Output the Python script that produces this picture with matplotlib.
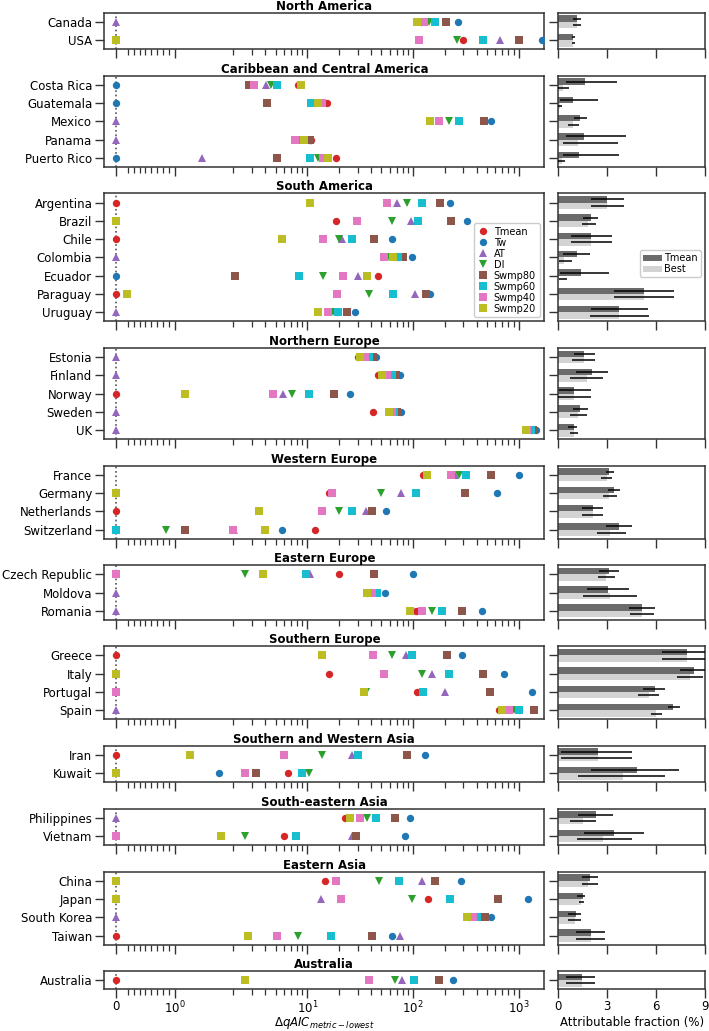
import numpy as np
import matplotlib
matplotlib.use("Agg")
import matplotlib.pyplot as plt
from matplotlib.ticker import FixedLocator, NullFormatter

regions = ["North America", "Caribbean and Central America", "South America",
           "Northern Europe", "Western Europe", "Eastern Europe", "Southern Europe",
           "Southern and Western Asia", "South-eastern Asia", "Eastern Asia", "Australia"]
region_sizes = [2, 5, 7, 5, 4, 3, 4, 2, 2, 4, 1]

countries = ["Canada", "USA",
             "Costa Rica", "Guatemala", "Mexico", "Panama", "Puerto Rico",
             "Argentina", "Brazil", "Chile", "Colombia", "Ecuador", "Paraguay", "Uruguay",
             "Estonia", "Finland", "Norway", "Sweden", "UK",
             "France", "Germany", "Netherlands", "Switzerland",
             "Czech Republic", "Moldova", "Romania",
             "Greece", "Italy", "Portugal", "Spain",
             "Iran", "Kuwait",
             "Philippines", "Vietnam",
             "China", "Japan", "South Korea", "Taiwan",
             "Australia"]

metrics = ["Tmean", "Tw", "AT", "DI", "Swmp80", "Swmp60", "Swmp40", "Swmp20"]

tmean = [119, 295,
         8.17, 15.2, 270, 10.9, 18.5,
         0, 18.7, 0, 72, 47, 0, 19,
         30.2, 46.9, 0, 42, 1300,
         125, 16.0, 0, 11.9,
         19.9, 37, 106.7,
         0, 16, 110, 656,
         0, 6.51,
         22.8, 5.99,
         14.6, 139, 340, 0,
         0]
tw = [267, 1648,
      0, 0, 550, 10.5, 0,
      224, 322, 63.2, 97, 0, 146, 28.5,
      44.4, 74.6, 25.1, 77.5, 1448,
      1000, 622, 56, 5.75,
      99.3, 54.7, 448,
      294, 721, 1349, 1007,
      128.6, 1.76,
      93.6, 84.5,
      286, 1222, 553, 63.4,
      239]
at = [0, 670,
      4.08, 10.9, 0, 0, 1.47,
      70, 95, 21.1, 0, 30.4, 104, 0,
      0, 0, 5.84, 0, 0,
      250, 77.4, 35.7, 2.03,
      10.5, 0, 0,
      85.9, 151, 200, 0,
      26.6, 8.89,
      0, 26.6,
      121, 13.5, 0, 75.8,
      78.7]
di = [143, 259,
      4.49, 12.5, 218, 8.1, 12.5,
      88.4, 63.7, 20.1, 59.7, 14.2, 38.6, 17.6,
      36, 60, 7.15, 62, 1300,
      270, 49.8, 19.9, 0.846,
      2.58, 40, 152.6,
      63.8, 120.8, 36, 895,
      13.7, 10.4,
      37.1, 2.55,
      47.2, 97.2, 380, 8.22,
      68]
swmp80 = [206, 1007,
          2.80, 4.19, 470, 10.5, 5.13,
          180, 228, 43, 81, 2.05, 133, 23.6,
          41.7, 69, 17.9, 70.6, 1371,
          550, 309, 40.6, 1.17,
          42.7, 43, 292.5,
          211, 460, 532, 1396,
          87.1, 3.27,
          68, 28.7,
          160, 631, 481, 41,
          178]
swmp60 = [160, 457,
          5.13, 10.9, 271, 8.48, 10.6,
          122, 111, 26.3, 72, 8.34, 65, 19.4,
          38.6, 62.8, 10.3, 66.4, 1298,
          320, 106, 26.5, 0,
          9.68, 45.4, 189.4,
          97.9, 218, 123.5, 1007,
          29.9, 8.89,
          45.1, 7.85,
          74, 225, 406, 16.6,
          103]
swmp40 = [128, 114,
          3.11, 13.8, 178, 7.6, 14.2,
          56.4, 29.3, 14.2, 53.5, 21.9, 19, 15.8,
          35.2, 56.9, 4.73, 63.2, 1200,
          230, 17.0, 13.7, 1.99,
          0, 40.7, 120.8,
          42, 53.5, 0, 809,
          6.03, 2.60,
          31.7, 0,
          18.5, 20.9, 366, 5.13,
          38.6]
swmp20 = [108, 0,
          8.81, 12.5, 145.5, 9.39, 15.8,
          10.6, 0, 5.73, 65.2, 36.5, 0.187, 12.7,
          31.3, 50.6, 1.17, 59.2, 1175,
          135, 0, 3.52, 4.0,
          3.79, 36.5, 94.1,
          13.8, 0, 34.6, 693,
          1.26, 0,
          25.6, 1.78,
          0, 0, 327, 2.75,
          2.56]

# Attributable fractions (%)
af_tmean = [1.12, 0.92, 1.65, 0.9, 1.33, 1.6, 1.27,
            2.97, 1.98, 1.98, 1.12, 1.39, 5.28, 3.74,
            1.56, 2.04, 0.99, 1.34, 0.94,
            3.1, 3.4, 2.11, 3.71,
            3.14, 3.07, 5.16,
            7.92, 8.34, 5.93, 7.05,
            2.41, 4.85,
            2.33, 3.4,
            1.93, 1.49, 1.1, 2.0,
            1.43]
af_tmean_lo = [0.88, 0.82, 0.5, 0.1, 0.95, 0.5, 0.3,
               1.98, 1.49, 0.78, 0.27, 0.1, 3.44, 1.98,
               0.94, 1.1, 0.07, 0.9, 0.61,
               2.9, 3.03, 1.43, 2.92,
               2.52, 1.73, 4.35,
               6.37, 7.46, 5.22, 6.76,
               0.18, 1.98,
               1.23, 1.6,
               1.43, 1.16, 0.61, 1.1,
               0.5]
af_tmean_hi = [1.37, 1.02, 3.6, 2.45, 1.74, 4.15, 3.72,
               4.0, 2.45, 3.27, 1.94, 3.09, 7.1, 5.48,
               2.26, 3.03, 1.98, 1.82, 1.12,
               3.4, 3.8, 2.77, 4.5,
               3.71, 4.35, 5.95,
               9.2, 9.2, 6.54, 7.46,
               4.5, 7.42,
               3.36, 5.25,
               2.41, 1.65, 1.38, 2.88,
               2.26]
af_best = [1.12, 0.92, 0.3, 0.1, 0.92, 1.19, 0.2,
           2.97, 1.84, 1.98, 0.35, 0.06, 5.28, 3.74,
           1.56, 1.78, 0.99, 1.23, 0.94,
           3.0, 3.14, 2.11, 3.2,
           2.92, 3.2, 5.16,
           7.92, 8.08, 5.55, 5.99,
           2.41, 3.95,
           1.49, 2.74,
           1.82, 1.38, 1.05, 2.0,
           1.43]
af_best_lo = [0.88, 0.82, 0.0, 0.0, 0.57, 0.3, 0.0,
              1.98, 1.47, 0.78, 0.04, 0.02, 3.44, 1.94,
              0.83, 0.72, 0.0, 0.72, 0.72,
              2.6, 2.74, 1.43, 2.37,
              2.44, 1.49, 4.39,
              6.37, 7.3, 4.9, 5.66,
              0.18, 1.23,
              0.72, 1.12,
              1.43, 1.27, 0.61, 1.1,
              0.5]
af_best_hi = [1.37, 1.02, 0.65, 0.22, 1.27, 3.64, 0.4,
              4.0, 2.31, 3.27, 0.82, 0.53, 7.1, 5.54,
              2.26, 2.77, 1.98, 1.78, 1.19,
              3.3, 3.58, 2.77, 4.13,
              3.49, 4.85, 5.84,
              9.2, 8.85, 6.2, 6.39,
              4.5, 6.54,
              2.3, 4.5,
              2.41, 1.56, 1.38, 2.88,
              2.26]

colors = ["#d62728", "#1f77b4", "#9467bd", "#2ca02c",
          "#8c564b", "#17becf", "#e377c2", "#bcbd22"]
markers = ["o", "o", "^", "v", "s", "s", "s", "s"]
series = [tmean, tw, at, di, swmp80, swmp60, swmp40, swmp20]

plt.rcParams["font.family"] = ["DejaVu Sans"]
FS = 8.5
SPINE = "#333333"

W, H = 709, 1031
fig = plt.figure(figsize=(W / 100, H / 100), dpi=100)
gs = fig.add_gridspec(len(regions), 2, height_ratios=region_sizes, width_ratios=[3, 1],
                      left=104.3 / W, right=705 / W, top=1 - 12.7 / H, bottom=1 - 989.3 / H,
                      hspace=0.405, wspace=0.0477)

minor_ticks = ([0.1 * k for k in range(2, 10)] + list(range(2, 10)) +
               [10 * k for k in range(2, 10)] + [100 * k for k in range(2, 10)])

start = 0
for i, (reg, n) in enumerate(zip(regions, region_sizes)):
    idx = list(range(start, start + n))
    start += n
    y = np.arange(n)
    ax = fig.add_subplot(gs[i, 0])
    bx = fig.add_subplot(gs[i, 1])

    ax.set_xscale("symlog", linthresh=2, linscale=1)
    ax.axvline(0, color="#555555", ls=":", lw=1.2, zorder=0)
    for m, (name, s) in enumerate(zip(metrics, series)):
        vals = [s[j] for j in idx]
        ax.plot(vals, y, ls="none", marker=markers[m], color=colors[m],
                ms=5.3, mew=0, label=name, zorder=3, clip_on=True)
    ax.set_xlim(-0.2, 1750)
    ax.set_ylim(n - 0.5, -0.5)
    ax.set_yticks(y)
    ax.set_yticklabels([countries[j] for j in idx], fontsize=FS)
    ax.xaxis.set_major_locator(FixedLocator([0, 1, 10, 100, 1000]))
    ax.xaxis.set_minor_locator(FixedLocator(minor_ticks))
    ax.xaxis.set_minor_formatter(NullFormatter())
    ax.set_title(reg, fontsize=FS, fontweight="bold", pad=2)

    # bars
    tm = [af_tmean[j] for j in idx]
    bs = [af_best[j] for j in idx]
    bx.barh(y - 0.175, tm, height=0.35, color="#6b6b6b", label="Tmean", zorder=2)
    bx.barh(y + 0.175, bs, height=0.35, color="#d3d3d3", label="Best", zorder=2)
    bx.hlines(y - 0.175, [af_tmean_lo[j] for j in idx], [af_tmean_hi[j] for j in idx],
              color="black", lw=1.1, zorder=3)
    bx.hlines(y + 0.175, [af_best_lo[j] for j in idx], [af_best_hi[j] for j in idx],
              color="black", lw=1.1, zorder=3)
    bx.set_xlim(0, 9)
    bx.set_ylim(n - 0.5, -0.5)
    bx.set_yticks(y)
    bx.set_yticklabels([])
    bx.set_xticks([0, 3, 6, 9])

    for a in (ax, bx):
        for sp in a.spines.values():
            sp.set_color(SPINE)
            sp.set_linewidth(1.1)
        a.tick_params(which="major", length=6.6, width=1, color=SPINE, labelsize=FS, pad=2.0)
        a.tick_params(axis="x", which="major", pad=1.2)
        a.tick_params(axis="x", which="minor", length=4, width=0.9, color=SPINE)
        if i != len(regions) - 1:
            a.tick_params(axis="x", labelbottom=False)

    if reg == "South America":
        ax.legend(loc="upper right", bbox_to_anchor=(0.99, 0.77), borderaxespad=0,
                  fontsize=7, handlelength=1.0, handletextpad=0.6, labelspacing=0.1,
                  borderpad=0.4, framealpha=1, edgecolor="#cccccc", fancybox=True)
        bx.legend(loc="center right", bbox_to_anchor=(0.97, 0.45), borderaxespad=0,
                  fontsize=7, handlelength=2.0, handletextpad=0.2, labelspacing=0.1,
                  borderpad=0.3, framealpha=1, edgecolor="#cccccc", fancybox=True)

    if i == len(regions) - 1:
        ax.set_xlabel(r"$\Delta qAIC_{metric-lowest}$", fontsize=FS)
        bx.set_xlabel("Attributable fraction (%)", fontsize=FS)
        ax.xaxis.set_label_coords(0.5, -(1030.8 - 989.3) / 18.3)
        bx.xaxis.set_label_coords(0.5, -(1028.5 - 989.3) / 18.3)
        ax.xaxis.label.set_va("bottom")
        bx.xaxis.label.set_va("bottom")

fig.savefig("out.png", dpi=100)
